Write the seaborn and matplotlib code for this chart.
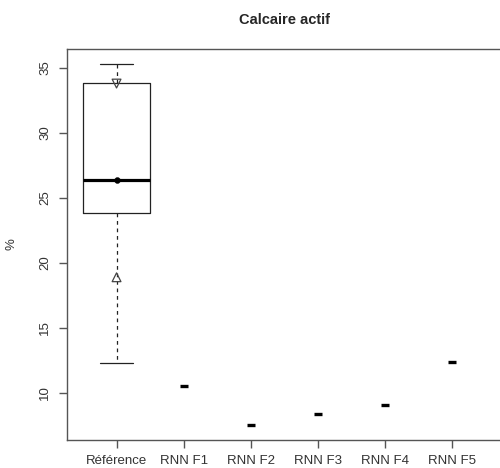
import matplotlib
matplotlib.use("Agg")
import matplotlib.pyplot as plt
import seaborn as sns
import pandas as pd

# données
groupes = ["Référence", "RNN F1", "RNN F2", "RNN F3", "RNN F4", "RNN F5"]
ref_stats = {"whislo": 12.3, "q1": 23.85, "med": 26.35, "q3": 33.85, "whishi": 35.3}
ref_moyenne = 26.35
ref_sd = 7.45
rnn_valeurs = [10.5, 7.5, 8.35, 9.1, 12.4]

sns.set_style("white")
plt.rcParams["font.family"] = ["Liberation Sans", "DejaVu Sans"]

fig = plt.figure(figsize=(5, 4.68), dpi=100)
ax = fig.add_axes([0.133, 0.0598, 0.872, 0.8355])

gris = "#555555"

# boîte de la référence
ax.bxp([dict(ref_stats, label=groupes[0], fliers=[])], positions=[0], widths=1.0,
       showfliers=False, patch_artist=False,
       boxprops=dict(color="#222222", lw=0.9),
       medianprops=dict(color="black", lw=2.3),
       whiskerprops=dict(color="#222222", lw=0.9, ls=(0, (3, 3))),
       capprops=dict(color="#222222", lw=0.9), capwidths=0.5)

# moyenne et moyenne +/- écart-type
pts = pd.DataFrame({"groupe": [groupes[0]], "v": [ref_moyenne]})
sns.scatterplot(data=pts, x="groupe", y="v", ax=ax, color="black", s=18,
                edgecolor="black", zorder=5)
sd = pd.DataFrame({"groupe": [groupes[0], groupes[0]],
                   "v": [ref_moyenne + ref_sd, ref_moyenne - ref_sd],
                   "m": ["bas", "haut"]})
sns.scatterplot(data=sd, x="groupe", y="v", style="m", markers={"bas": "v", "haut": "^"},
                ax=ax, s=40, facecolor="none", edgecolor="#444444", linewidth=0.9,
                legend=False, zorder=5)

# valeurs des RNN
rnn = pd.DataFrame({"groupe": groupes[1:], "v": rnn_valeurs})
sns.scatterplot(data=rnn, x="groupe", y="v", ax=ax, marker="_", s=32,
                color="black", linewidth=2.4, zorder=5)

ax.set_xticks(range(len(groupes)))
ax.set_xticklabels(groupes)
ax.set_xlim(-0.745, 5.745)
ax.set_ylim(6.38, 36.46)
ax.set_yticks([10, 15, 20, 25, 30, 35])
ax.set_yticklabels(["10", "15", "20", "25", "30", "35"], rotation=90, va="center")

for s in ax.spines.values():
    s.set_color(gris)
    s.set_linewidth(1.0)
ax.tick_params(axis="both", direction="out", length=6, width=1, color=gris,
               labelsize=9.5, labelcolor="#333333", left=True, bottom=True, pad=5)
ax.set_xlabel("")
ax.set_ylabel("%", fontsize=9.5, color="#333333")
ax.yaxis.set_label_coords(-0.112, 0.5)
ax.set_title("Calcaire actif", fontsize=10.5, fontweight="bold", pad=18)

fig.savefig("out.png", dpi=100)
